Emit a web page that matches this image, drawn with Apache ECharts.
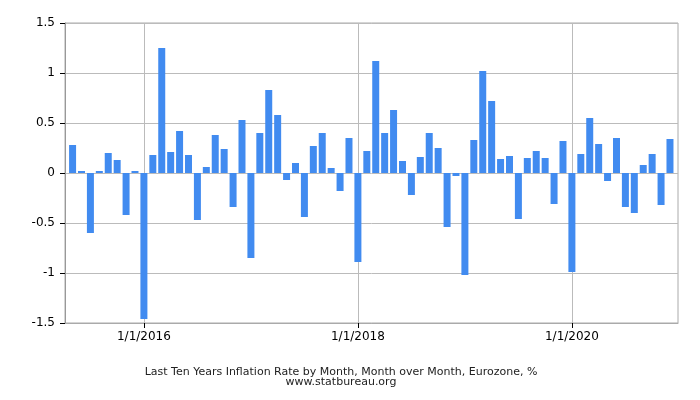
<!DOCTYPE html>
<html>
<head>
<meta charset="utf-8">
<script src="https://cdn.jsdelivr.net/npm/echarts@6/dist/echarts.min.js"></script>
<style>html,body{margin:0;padding:0;background:#fff}#c{width:700px;height:400px}</style>
</head>
<body>
<div id="c"></div>
<script>
// Months May 2015 .. Dec 2020
const months = [];
(function(){ let y = 2015, m = 5; while (y < 2021) { months.push(m + '/1/' + y); m++; if (m > 12) { m = 1; y++; } } })();

const values = [
  0.28, 0.02, -0.60, 0.02, 0.20, 0.13, -0.42, 0.02,
  -1.46, 0.18, 1.25, 0.21, 0.42, 0.18, -0.47, 0.06, 0.38, 0.24, -0.34, 0.53,
  -0.85, 0.40, 0.83, 0.58, -0.07, 0.10, -0.44, 0.27, 0.40, 0.05, -0.18, 0.35,
  -0.89, 0.22, 1.12, 0.40, 0.63, 0.12, -0.22, 0.16, 0.40, 0.25, -0.54, -0.03,
  -1.02, 0.33, 1.02, 0.72, 0.14, 0.17, -0.46, 0.15, 0.22, 0.15, -0.31, 0.32,
  -0.99, 0.19, 0.55, 0.29, -0.08, 0.35, -0.34, -0.40, 0.08, 0.19, -0.32, 0.34
];

const tickLabels = ['1/1/2016', '1/1/2018', '1/1/2020'];
const titleText = 'Last Ten Years Inflation Rate by Month, Month over Month, Eurozone, %';
const subText = 'www.statbureau.org';

const tickIdx = tickLabels.map(t => months.indexOf(t));
const barData = values.map((v, i) => [i, v]);

const chart = echarts.init(document.getElementById('c'), null, {renderer: 'canvas'});
const font = 'DejaVu Sans';
chart.setOption({
  animation: false,
  grid: {left: 65, right: 22, top: 23, bottom: 77, show: true, borderColor: '#aaa', borderWidth: 1},
  xAxis: {
    type: 'value',
    min: -0.85,
    max: months.length - 1 + 0.9,
    axisLine: {show: true, onZero: false, lineStyle: {color: '#aaa'}},
    axisTick: {show: true, length: 5, lineStyle: {color: '#000'}, customValues: tickIdx},
    axisLabel: {customValues: tickIdx, formatter: v => months[Math.round(v)] || '', color: '#000', fontFamily: font, fontSize: 12, margin: 8},
    splitLine: {show: false}
  },
  yAxis: {
    type: 'value',
    min: -1.5, max: 1.5, interval: 0.5,
    axisLine: {show: true, onZero: false, lineStyle: {color: '#999'}},
    axisTick: {show: true, length: 5, lineStyle: {color: '#000'}},
    axisLabel: {color: '#000', fontFamily: font, fontSize: 12, margin: 10},
    splitLine: {show: true, lineStyle: {color: '#bbb'}}
  },
  series: [{
    type: 'line',
    data: [],
    z: 0,
    silent: true,
    markLine: {
      silent: true, symbol: 'none', label: {show: false}, z: 0,
      lineStyle: {color: '#bbb', type: 'solid', width: 1},
      data: tickIdx.map(t => ({xAxis: t}))
    }
  }, {
    type: 'bar',
    data: barData,
    barWidth: 7,
    itemStyle: {color: '#418bf0'},
    z: 5
  }],
  graphic: [
    {type: 'text', x: 341, y: 372, style: {text: titleText, fill: '#222', font: '11px "DejaVu Sans"', textAlign: 'center', textVerticalAlign: 'middle'}},
    {type: 'text', x: 341, y: 382, style: {text: subText, fill: '#222', font: '11px "DejaVu Sans"', textAlign: 'center', textVerticalAlign: 'middle'}}
  ]
});
</script>
</body>
</html>
